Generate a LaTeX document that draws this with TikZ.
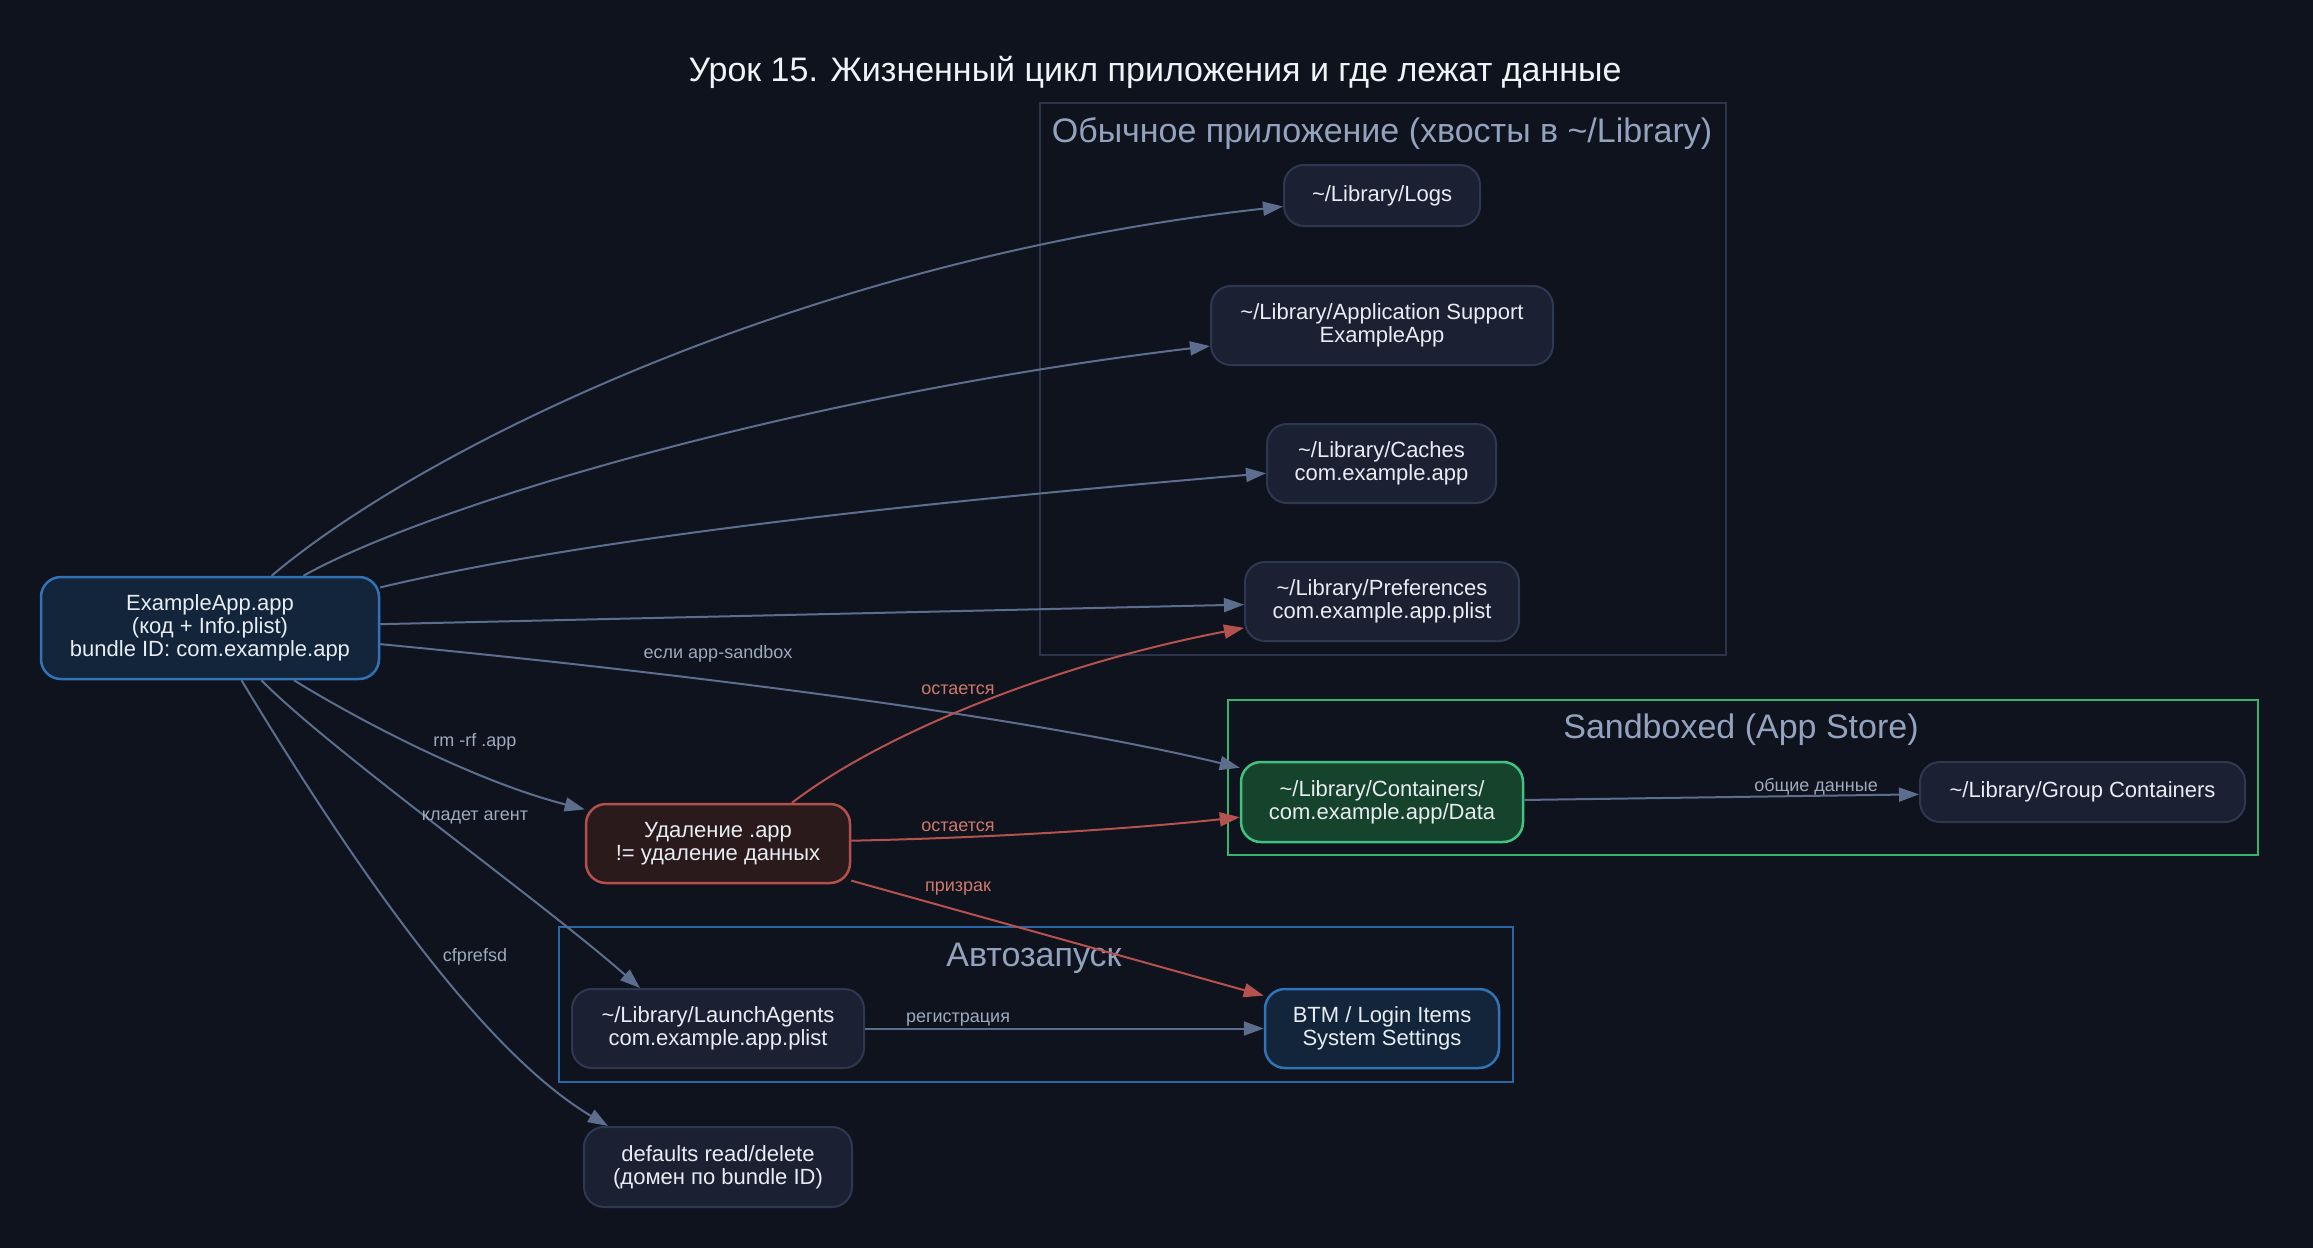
\documentclass[tikz,border=0pt]{standalone}
\usepackage{fontspec}
\setmainfont{Liberation Sans}
\usetikzlibrary{arrows.meta,calc}
\definecolor{bg}{HTML}{0F131E}
\definecolor{nodefill}{HTML}{1B2133}
\definecolor{nodedraw}{HTML}{2E3850}
\definecolor{appfill}{HTML}{13253B}
\definecolor{appdraw}{HTML}{3273B8}
\definecolor{delfill}{HTML}{2B1A1B}
\definecolor{deldraw}{HTML}{B4504B}
\definecolor{sbfill}{HTML}{15432B}
\definecolor{sbdraw}{HTML}{42C282}
\definecolor{edgecol}{HTML}{5D6D8E}
\definecolor{redcol}{HTML}{B5524E}
\definecolor{nodetext}{HTML}{E8EDF4}
\definecolor{clabel}{HTML}{94A3BD}
\definecolor{elabel}{HTML}{9EAABE}
\definecolor{rlabel}{HTML}{D0786C}
\definecolor{cluone}{HTML}{2B3449}
\definecolor{clusb}{HTML}{38B26C}
\definecolor{cluauto}{HTML}{2A67A6}
\definecolor{titlecol}{HTML}{F0F3F8}
\begin{document}
\begin{tikzpicture}[x=0.5pt,y=-0.5pt,
  box/.style={draw=nodedraw, fill=nodefill, rounded corners=10pt, line width=1pt,
    text=nodetext, font=\fontsize{11}{11.5}\selectfont, align=center, inner sep=0pt},
  appbox/.style={box, draw=appdraw, fill=appfill, line width=1.25pt},
  delbox/.style={box, draw=deldraw, fill=delfill, line width=1.25pt},
  sbbox/.style={box, draw=sbdraw, fill=sbfill, line width=1.25pt},
  edge/.style={draw=edgecol, line width=1pt, -{Triangle[length=10pt,width=7pt]}},
  rededge/.style={edge, draw=redcol, -{Triangle[length=10pt,width=7pt,fill=redcol]}},
  elab/.style={text=elabel, font=\fontsize{9}{10}\selectfont, inner sep=1pt},
  rlab/.style={elab, text=rlabel},
  clab/.style={text=clabel, font=\fontsize{17}{19}\selectfont, inner sep=0pt},
  cluster/.style={line width=1pt}
]
\fill[bg] (0,0) rectangle (2313,1248);
\useasboundingbox (0,0) rectangle (2313,1248);

% title
\node[text=titlecol, font=\fontsize{17}{19}\selectfont] (title) at (1155,72) {Урок 15. Жизненный цикл приложения и где лежат данные};

% clusters
\draw[cluster, draw=cluone] (1040,103) rectangle (1726,655);
\node[clab] (c1lab) at (1382,134) {Обычное приложение (хвосты в \textasciitilde/Library)};
\draw[cluster, draw=clusb] (1228,700) rectangle (2258,855);
\node[clab] (c2lab) at (1741,730) {Sandboxed (App Store)};
\draw[cluster, draw=cluauto] (559,927) rectangle (1513,1082);
\node[clab] (c3lab) at (1034,958) {Автозапуск};

% nodes
\node[appbox, minimum width=169pt, minimum height=51pt] (app) at (210,628) {ExampleApp.app\\(код + Info.plist)\\bundle ID: com.example.app};
\node[box, minimum width=98pt, minimum height=30.5pt] (logs) at (1382,195.5) {\textasciitilde/Library/Logs};
\node[box, minimum width=171pt, minimum height=39.5pt] (appsup) at (1382,325.5) {\textasciitilde/Library/Application Support\\ExampleApp};
\node[box, minimum width=114.5pt, minimum height=39.5pt] (caches) at (1381.5,463.5) {\textasciitilde/Library/Caches\\com.example.app};
\node[box, minimum width=137pt, minimum height=39.5pt] (prefs) at (1382,601.5) {\textasciitilde/Library/Preferences\\com.example.app.plist};
\node[sbbox, minimum width=141pt, minimum height=40pt] (cont) at (1382,802) {\textasciitilde/Library/Containers/\\com.example.app/Data};
\node[box, minimum width=162.5pt, minimum height=30pt] (group) at (2082.5,792) {\textasciitilde/Library/Group Containers};
\node[delbox, minimum width=132pt, minimum height=39.5pt] (del) at (718,843.5) {Удаление .app\\!= удаление данных};
\node[box, minimum width=146pt, minimum height=39.5pt] (launch) at (718,1028.5) {\textasciitilde/Library/LaunchAgents\\com.example.app.plist};
\node[appbox, minimum width=117pt, minimum height=39.5pt] (btm) at (1382,1028.5) {BTM / Login Items\\System Settings};
\node[box, minimum width=134pt, minimum height=40pt] (defaults) at (718,1167) {defaults read/delete\\(домен по bundle ID)};

% edges
\draw[edge] (app) .. controls (420,450) and (800,260) .. (logs);
\draw[edge] (app) .. controls (430,505) and (800,395) .. (appsup);
\draw[edge] (app) .. controls (600,535) and (950,500) .. (caches);
\draw[edge] (app) -- (prefs);
\draw[edge] (app) .. controls (600,665) and (1000,710) .. (cont);
\draw[edge] (app) .. controls (350,715) and (470,780) .. (del);
\draw[edge] (app) .. controls (330,750) and (540,900) .. ($(launch.north)+(-78,0)$);
\draw[edge] (app) .. controls (350,860) and (480,1050) .. ($(defaults.north)+(-110,0)$);
\draw[rededge] ($(del.north)+(74,0)$) .. controls (880,735) and (1050,665) .. (prefs);
\draw[rededge] (del) .. controls (980,838) and (1120,830) .. (cont);
\draw[rededge] (del) -- (btm);
\draw[edge] (launch) -- (btm);
\draw[edge] (cont) -- (group);

% edge labels
\node[elab] (l1) at (718,654) {если app-sandbox};
\node[rlab] (l2) at (958,690) {остается};
\node[elab] (l3) at (475,742) {rm -rf .app};
\node[elab] (l4) at (475,817) {кладет агент};
\node[rlab] (l5) at (958,827) {остается};
\node[rlab] (l6) at (958,889) {призрак};
\node[elab] (l7) at (475,957) {cfprefsd};
\node[elab] (l8) at (958,1020) {регистрация};
\node[elab] (l9) at (1816,787) {общие данные};
\end{tikzpicture}
\end{document}
